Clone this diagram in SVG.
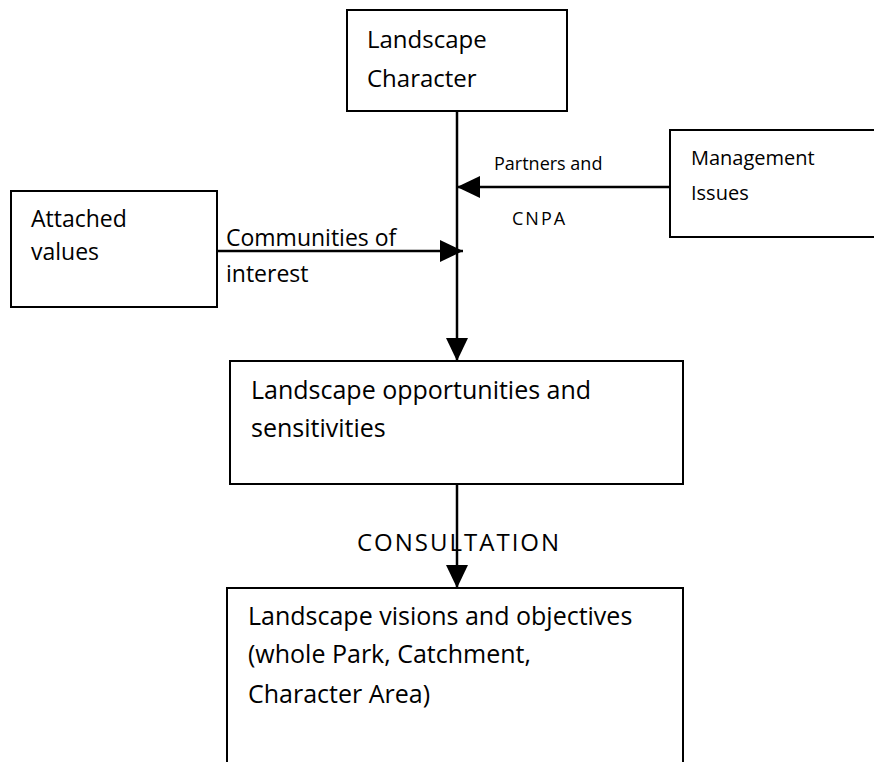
<svg xmlns="http://www.w3.org/2000/svg" width="874" height="762" viewBox="0 0 874 762">
<style>
.box{fill:#fff;stroke:#000;stroke-width:2}
.t{font-family:"Open Sans","Liberation Sans",sans-serif;fill:#000;font-size:23px}
.s{font-size:18px}
.b{font-size:25px}
.c{stroke:#000;stroke-width:2.5;fill:none}
</style>
<defs>
<marker id="ah" viewBox="0 0 23 22" refX="23" refY="11" markerWidth="23" markerHeight="22" markerUnits="userSpaceOnUse" orient="auto">
<path d="M0,0 L23,11 L0,22 Z" fill="#000"/>
</marker>
</defs>
<rect width="874" height="762" fill="#fff"/>
<g id="connectors">
<line class="c" x1="457" y1="111" x2="457" y2="361" marker-end="url(#ah)"/>
<line class="c" x1="670" y1="187" x2="457" y2="187" marker-end="url(#ah)"/>
<line class="c" x1="217" y1="251" x2="463" y2="251" marker-end="url(#ah)"/>
<line class="c" x1="457" y1="484" x2="457" y2="588" marker-end="url(#ah)"/>
</g>
<g id="landscape-character">
<rect class="box" x="347" y="10" width="220" height="101"/>
<text class="t" x="367" y="48" style="font-size:24px">Landscape</text>
<text class="t" x="367" y="87" style="font-size:24px">Character</text>
</g>
<g id="management-issues">
<rect class="box" x="670" y="130" width="215" height="107"/>
<text class="t" x="691" y="165" style="font-size:20px">Management</text>
<text class="t" x="691" y="200" style="font-size:20px">Issues</text>
</g>
<g id="attached-values">
<rect class="box" x="11" y="191" width="206" height="116"/>
<text class="t" x="31" y="227">Attached</text>
<text class="t" x="31" y="260">values</text>
</g>
<g id="labels">
<text class="t" x="226" y="246">Communities of</text>
<text class="t" x="226" y="282">interest</text>
<text class="t s" x="494" y="170">Partners and</text>
<text class="t s" x="512" y="225" style="letter-spacing:2px">CNPA</text>
<text class="t" x="357" y="551" style="font-size:24px;letter-spacing:2px">CONSULTATION</text>
</g>
<g id="opportunities">
<rect class="box" x="230" y="361" width="453" height="123"/>
<text class="t b" x="251" y="399">Landscape opportunities and</text>
<text class="t b" x="251" y="437">sensitivities</text>
</g>
<g id="visions">
<rect class="box" x="227" y="588" width="456" height="200"/>
<text class="t b" x="248" y="625">Landscape visions and objectives</text>
<text class="t b" x="248" y="663">(whole Park, Catchment,</text>
<text class="t b" x="248" y="703">Character Area)</text>
</g>
</svg>
